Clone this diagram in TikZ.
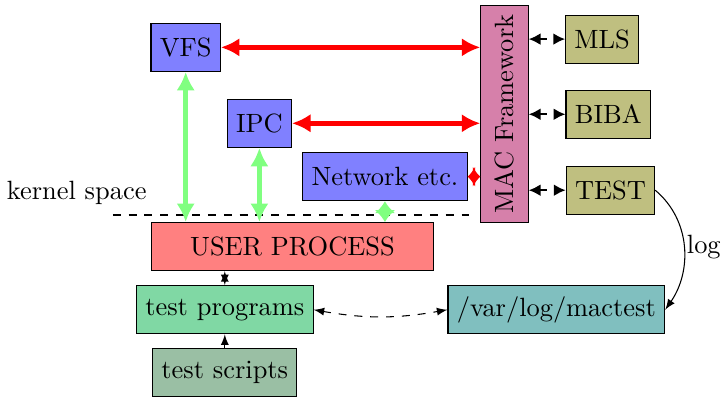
\documentclass[tikz,border=0pt]{standalone}
\usetikzlibrary{arrows,arrows.meta}
\definecolor{macpink}{RGB}{214,128,170}
\definecolor{progcol}{RGB}{128,216,164}
\definecolor{scriptcol}{RGB}{154,191,164}
\definecolor{modcol}{RGB}{191,191,128}
\tikzset{
  box/.style={draw, minimum height=0.64cm},
  kern/.style={box, fill=blue!50},
  modul/.style={box, fill=modcol},
  redlink/.style={red, line width=1.8pt, {Latex[length=7pt,width=7pt]}-{Latex[length=7pt,width=7pt]}},
  greenlink/.style={green!50, line width=1.8pt, {Latex[length=7pt,width=7pt]}-{Latex[length=7pt,width=7pt]}},
  shortlink/.style={{Latex[length=#1,width=8pt]}-{Latex[length=#1,width=8pt]}},
  modlink/.style={thick, dashed, {Latex[length=4.5pt,width=4.5pt]}-{Latex[length=4.5pt,width=4.5pt]}}
}
\begin{document}
\begin{tikzpicture}
  \useasboundingbox (0, 0) rectangle (9.63, 5.28);
  % nodes
  \node[kern] (vfs) at (2.47, 4.65) {VFS};
  \node[kern] (ipc) at (3.45, 3.64) {IPC};
  \node[kern] (net) at (5.12, 2.93) {Network etc.};
  \node[box, fill=macpink, rotate=90, minimum width=2.89cm, minimum height=0.63cm] (mac) at (6.71, 3.76) {MAC Framework};
  \node[modul] (mls) at (8.01, 4.76) {MLS};
  \node[modul] (biba) at (8.09, 3.76) {BIBA};
  \node[modul] (test) at (8.12, 2.75) {TEST};
  \node[box, fill=red!50, minimum width=3.74cm] (user) at (3.89, 2.00) {USER PROCESS};
  \node[box, fill=progcol] (prog) at (2.99, 1.16) {test programs};
  \node[box, fill=scriptcol] (scripts) at (2.99, 0.33) {test scripts};
  \node[box, fill=teal!50] (log) at (7.40, 1.16) {/var/log/mactest};
  \node (kspace) at (1.02, 2.71) {kernel space};
  % kernel border
  \coordinate (kl) at (1.50, 2.42);
  \coordinate (kr) at (6.29, 2.42);
  \draw[dashed] (kl) -- (kr);
  % lines
  \draw[redlink] (vfs.east) -- (vfs.east -| mac.north);
  \draw[redlink] (ipc.east) -- (ipc.east -| mac.north);
  \draw[redlink, shortlink=2.8pt] (net.east) -- (net.east -| mac.north);
  \draw[greenlink] (vfs.south) -- (vfs.south |- user.north);
  \draw[greenlink] (ipc.south) -- (ipc.south |- user.north);
  \draw[greenlink, shortlink=4.5pt] (net.south) -- (net.south |- user.north);
  \draw[modlink] (mls.west -| mac.south) -- (mls.west);
  \draw[modlink] (biba.west -| mac.south) -- (biba.west);
  \draw[modlink] (test.west -| mac.south) -- (test.west);
  \draw[latex-latex] (prog.north) -- (prog.north |- user.south);
  \draw[-latex] (scripts.north) -- (prog.south);
  \draw[dashed, latex-latex] (prog.east) to[bend right=10] (log.west);
  \draw[-latex] (test.east) to[out=-40, in=55] node[right, inner sep=1pt] {log} (log.east);
\end{tikzpicture}
\end{document}
